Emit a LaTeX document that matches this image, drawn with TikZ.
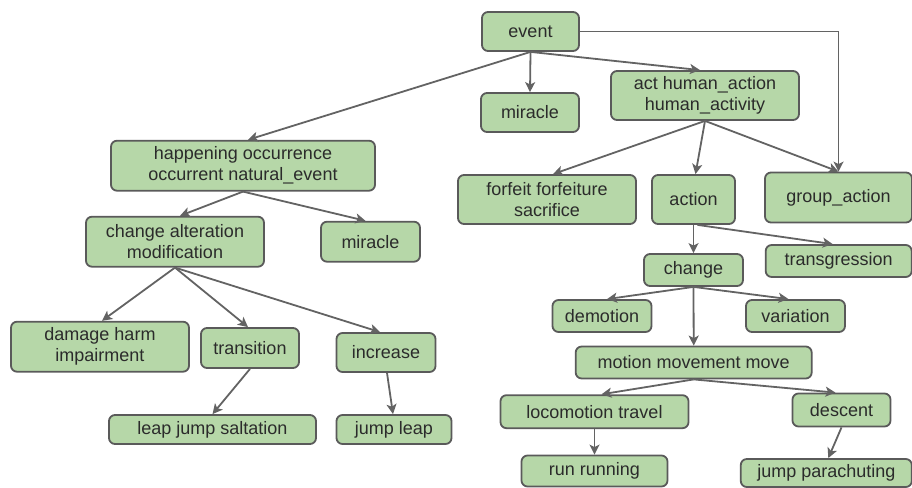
\documentclass[tikz,border=0pt]{standalone}
\usepackage{fontspec}
\setmainfont{Liberation Sans}
\usetikzlibrary{arrows.meta}
\definecolor{boxfill}{HTML}{B6D7A8}
\definecolor{boxline}{HTML}{5A5A5A}
\definecolor{edgecol}{HTML}{636363}
\definecolor{txtcol}{HTML}{2B2B2B}
\tikzset{
  box/.style={draw=boxline, fill=boxfill, line width=1.8pt, rounded corners=6pt,
    inner sep=0pt, align=center, text=txtcol,
    font=\fontsize{18}{21}\selectfont},
  edge/.style={draw=edgecol, line width=1.8pt,
    -{Stealth[length=10pt, width=10pt, inset=2.5pt]}}
}
\newcommand{\bx}[5]{\node[box, minimum width=#3pt, minimum height=#4pt] (#1) at (#2) {#5};}
\begin{document}
\begin{tikzpicture}[x=1pt, y=-1pt]
\useasboundingbox (0,0) rectangle (912,487);
% top level
\bx{event}{530.5,31.5}{97}{39}{event}
\bx{mir1}{530,112.5}{98}{39}{miracle}
\bx{act}{705,95.5}{188}{49}{act human\_action\\human\_activity}
\bx{forfeit}{547,199.5}{178}{49}{forfeit forfeiture\\sacrifice}
\bx{action}{693.5,199.5}{83}{49}{action}
\bx{group}{838.5,197.5}{147}{50}{group\_action}
% natural events branch
\bx{happ}{243,165.7}{264}{50}{happening occurrence\\occurrent natural\_event}
\bx{alter}{175,241.7}{178}{50}{change alteration\\modification}
\bx{mir2}{370.5,241.7}{99}{40}{miracle}
\bx{damage}{100,346.7}{178}{50}{damage harm\\impairment}
\bx{trans}{250,348}{98}{40}{transition}
\bx{incr}{386,352.5}{99}{39}{increase}
\bx{leap}{212.5,429.5}{207}{29}{leap jump saltation}
\bx{jleap}{394,429.5}{115}{29}{jump leap}
% action branch
\bx{chg}{693.5,270}{99}{32}{change}
\bx{transg}{838.7,261}{146}{32}{transgression}
\bx{demo}{602,316}{99}{32}{demotion}
\bx{vari}{795.5,316}{99}{32}{variation}
\bx{motion}{693.7,362.5}{236}{32}{motion movement move}
\bx{loco}{594.5,411.7}{188}{33}{locomotion travel}
\bx{desc}{841.5,410}{98}{33}{descent}
\bx{run}{594.5,471}{146}{31}{run running}
\bx{jpara}{826.3,473}{171}{28}{jump parachuting}
% connectors
\draw[edge] (event.south) -- ([xshift=5pt]happ.north);
\draw[edge] (event.south) -- (mir1.north);
\draw[edge] (event.south) -- ([xshift=-5pt]act.north);
\draw[edge] (event.east) -| (group.north);
\draw[edge] (act.south) -- ([xshift=6pt]forfeit.north);
\draw[edge] (act.south) -- ([xshift=2pt]action.north);
\draw[edge] (act.south) -- (group.north);
\draw[edge] (happ.south) -- ([xshift=5pt]alter.north);
\draw[edge] (happ.south) -- ([xshift=-5pt]mir2.north);
\draw[edge] (alter.south) -- ([xshift=2pt]damage.north);
\draw[edge] (alter.south) -- ([xshift=-2pt]trans.north);
\draw[edge] (alter.south) -- ([xshift=-6pt]incr.north);
\draw[edge] (trans.south) -- (leap.north);
\draw[edge] ([xshift=1pt]incr.south) -- ([xshift=-1pt]jleap.north);
\draw[edge] (action.south) -- (chg.north);
\draw[edge] ([xshift=4pt]action.south) -- ([xshift=-6pt]transg.north);
\draw[edge] (chg.south) -- ([xshift=5pt]demo.north);
\draw[edge] (chg.south) -- ([xshift=-7pt]vari.north);
\draw[edge] (chg.south) -- (motion.north);
\draw[edge] (motion.south) -- ([xshift=7pt]loco.north);
\draw[edge] (motion.south) -- ([xshift=-6pt]desc.north);
\draw[edge] (loco.south) -- (run.north);
\draw[edge] (desc.south) -- ([xshift=2pt]jpara.north);
\end{tikzpicture}
\end{document}
